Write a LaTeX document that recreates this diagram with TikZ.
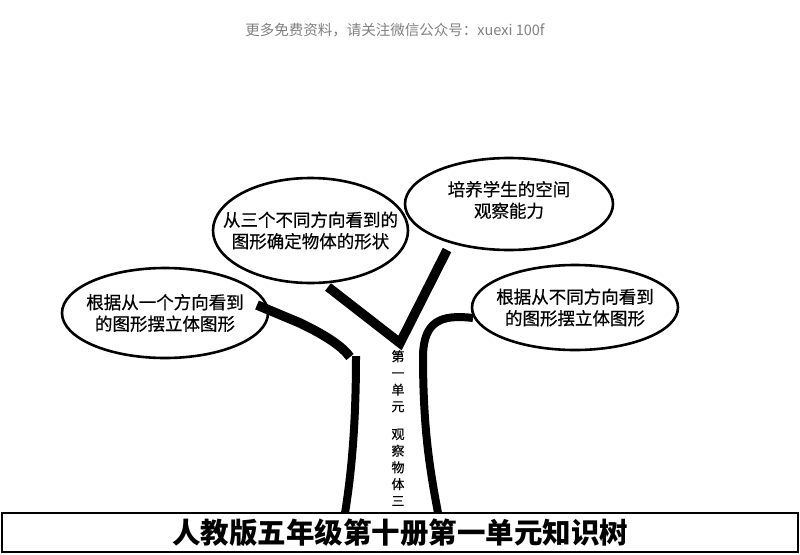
\documentclass[tikz,border=0pt]{standalone}
\usepackage{fontspec}
\setmainfont{Noto Sans CJK SC}
\newfontfamily\medfont[FakeBold=0.5]{Noto Sans CJK SC}
\usetikzlibrary{shapes.geometric}
\definecolor{hdrgray}{RGB}{128,128,128}
\begin{document}
\begin{tikzpicture}[x=1pt,y=-1pt,
  bubble/.style={draw=black, line width=2.6pt, ellipse, inner sep=0pt},
  btext/.style={font=\medfont\fontsize{17.5}{21.5}\selectfont, align=center, inner sep=0pt},
  branch/.style={line width=9.5pt, black, line cap=butt},
  trunk/.style={line width=8pt, black, line cap=butt}]
\useasboundingbox (0,0) rectangle (800,554);
% header
\node[font=\fontsize{14.5}{16}\selectfont, text=hdrgray, inner sep=0pt] (hdr) at (395,30) {更多免费资料，请关注微信公众号：xuexi 100f};
% bubbles
\node[bubble, minimum width=206pt, minimum height=90pt] (e1) at (165,313) {};
\node[btext] (t1) at (e1.center) {根据从一个方向看到\\的图形摆立体图形};
\node[bubble, minimum width=195pt, minimum height=105pt] (e2) at (310.5,230.5) {};
\node[btext] (t2) at (e2.center) {从三个不同方向看到的\\图形确定物体的形状};
\node[bubble, minimum width=208pt, minimum height=92pt] (e3) at (509,204) {};
\node[btext] (t3) at ([yshift=4pt]e3.center) {培养学生的空间\\观察能力};
\node[bubble, minimum width=206pt, minimum height=85pt] (e4) at (575,307.5) {};
\node[btext] (t4) at (e4.center) {根据从不同方向看到\\的图形摆立体图形};
% branch points
\coordinate (b1s) at (257,305);
\coordinate (b1e) at (350,357);
\coordinate (b2s) at (328,287);
\coordinate (apex) at (400,343);
\coordinate (b3s) at (447,250);
\coordinate (b4s) at (473,318);
\coordinate (ltop) at (356,356);
\coordinate (lbot) at (345,513);
\coordinate (rtop) at (423,355);
\coordinate (rbot) at (438,513);
% branches
\draw[branch] (b1s) -- (300,323) .. controls (325,335) and (342,346) .. (b1e);
\draw[branch, line join=miter] (b2s) -- (apex) -- (b3s);
\draw[trunk] (b4s) .. controls (440,314) and (424,322) .. (rtop) .. controls (423,430) and (430,470) .. (rbot);
\draw[trunk] (ltop) .. controls (356,420) and (352,470) .. (lbot);
% vertical text
\node[font=\medfont\fontsize{13}{16.7}\selectfont, align=center, inner sep=0pt, anchor=north] (vt) at (398,350) {第\\一\\单\\元\\[11pt]观\\察\\物\\体\\三};
% title box
\draw[line width=2.5pt] (2,513) rectangle (798,552);
\node[font=\bfseries\fontsize{28.5}{30}\selectfont, inner sep=0pt] (title) at (400,533) {人教版五年级第十册第一单元知识树};
\end{tikzpicture}
\end{document}
